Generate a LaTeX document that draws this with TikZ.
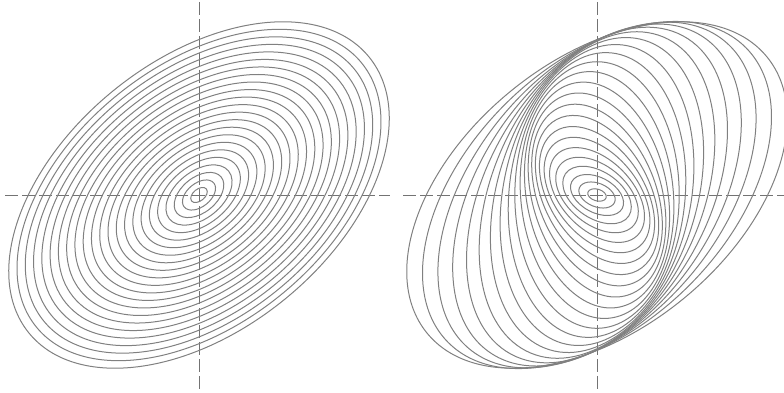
\documentclass[tikz,border=0pt]{standalone}
\usepackage{tikz}

\begin{document}
\begin{tikzpicture}[x=1pt, y=1pt,
    axis/.style={draw=black!55, line width=0.8pt, dash pattern=on 13pt off 4pt},
    ring/.style={draw=black!50, line width=1pt},
]
\useasboundingbox (0,0) rectangle (784,393);
\coordinate (cL) at (199,198);
\coordinate (cR) at (597,198);

% dashed axes
\draw[axis] ([yshift=193pt]cL) -- ([yshift=-195pt]cL);
\draw[axis] ([xshift=-194pt]cL) -- ([xshift=191pt]cL);
\draw[axis] ([yshift=193pt]cR) -- ([yshift=-195pt]cR);
\draw[axis] ([xshift=-194pt]cR) -- ([xshift=187pt]cR);

% left: similar ellipses, all at the same tilt
\foreach \k in {1,...,23}
  \draw[ring, rotate around={39:(cL)}] (cL)
    ellipse [x radius={219pt*\k/23}, y radius={135pt*\k/23}];

% right: the same ellipses, turned further the smaller they are
\foreach \k in {1,...,23}{
  \pgfmathsetmacro\ang{39+130*(1-\k/23)}
  \draw[ring, rotate around={\ang:(cR)}] (cR)
    ellipse [x radius={219pt*\k/23}, y radius={135pt*\k/23}];
}
\end{tikzpicture}
\end{document}
